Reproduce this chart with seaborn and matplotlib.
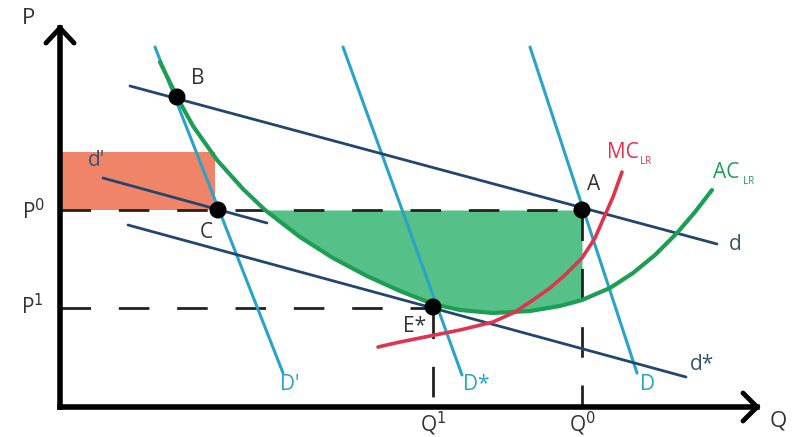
import numpy as np
import pandas as pd
import matplotlib
matplotlib.use("Agg")
import matplotlib.pyplot as plt
import seaborn as sns

sns.set_theme(style="white")
plt.rcParams["font.family"] = ["Open Sans", "DejaVu Sans"]

# Canvas coordinates (x to the right, y downward)
AXIS_X0, AXIS_Y0 = 60, 407
P0, P1 = 210, 308
Q1, Q0 = 433, 582

# Long-run average cost curve
ac_x = [160, 177, 193, 217, 243, 265, 300, 333, 367, 400, 433, 460, 493,
        530, 560, 582, 610, 633, 655, 677, 695, 712]
ac_y = [62, 97, 126, 160, 189, 210, 237, 258, 276, 291, 304, 310, 313,
        311, 306, 300, 288, 273, 255, 233, 212, 190]

# Long-run marginal cost curve
mc_x = [378, 400, 430, 460, 493, 515, 533, 550, 565, 582, 595, 605, 613, 622]
mc_y = [347, 342, 336, 330, 322, 312, 300, 288, 275, 258, 238, 215, 197, 172]

# Market demand lines D', D*, D
big_D = {
    "D'": ([155, 283], [47, 373]),
    "D*": ([343, 462], [47, 375]),
    "D": ([530, 637], [47, 373]),
}
# Firm demand lines d, d', d*
small_d = {
    "d": ([130, 717], [86, 244]),
    "d'": ([103, 267], [178, 223]),
    "d*": ([128, 686], [225, 377]),
}

# Equilibrium points
pt_names = ["B", "C", "A", "E*"]
pt_x = [177, 218, 582, 433]
pt_y = [97, 210, 210, 307]

TEAL = "#2aa3c6"
NAVY = "#23466f"
GREEN = "#1e9e55"
RED = "#e0344e"
SALMON = "#f08468"
FILL_GREEN = "#55c088"
TXT = "#333333"

fig = plt.figure(figsize=(7.92, 4.37), dpi=100)
ax = fig.add_axes([0, 0, 1, 1])
ax.set_xlim(0, 792)
ax.set_ylim(437, 0)
ax.axis("off")

# Shaded areas
ax.fill_between([AXIS_X0, 215], [152, 152], [P0, P0], color=SALMON, lw=0, zorder=1)
acx = np.array(ac_x)
acy = np.array(ac_y)
m = (acx >= 265) & (acx <= Q0)
ax.fill_between(acx[m], acy[m], P0, color=FILL_GREEN, lw=0, zorder=1)

# Dashed reference lines
dash = dict(color="#222222", lw=2, dashes=(11, 10), zorder=2)
ax.plot([AXIS_X0, Q0], [P0, P0], **dash)
ax.plot([AXIS_X0, Q1], [P1, P1], **dash)
ax.plot([Q1, Q1], [P1, AXIS_Y0], **dash)
ax.plot([Q0, Q0], [P0, AXIS_Y0], **dash)

# Demand lines
for name, (xs, ys) in big_D.items():
    sns.lineplot(x=xs, y=ys, ax=ax, color=TEAL, lw=2.2, sort=False,
                 estimator=None, zorder=3)
for name, (xs, ys) in small_d.items():
    sns.lineplot(x=xs, y=ys, ax=ax, color=NAVY, lw=2.0, sort=False,
                 estimator=None, zorder=3)

# Cost curves
sns.lineplot(x=ac_x, y=ac_y, ax=ax, color=GREEN, lw=3.0, sort=False,
             estimator=None, zorder=4)
sns.lineplot(x=mc_x, y=mc_y, ax=ax, color=RED, lw=2.6, sort=False,
             estimator=None, zorder=4)

# Points
sns.scatterplot(x=pt_x, y=pt_y, ax=ax, color="black", s=150, zorder=6,
                edgecolor="none")

# Axes with arrow heads
ax.plot([AXIS_X0, AXIS_X0], [AXIS_Y0, 28], color="black", lw=4, zorder=5,
        solid_capstyle="projecting")
ax.plot([AXIS_X0, 757], [AXIS_Y0, AXIS_Y0], color="black", lw=4, zorder=5,
        solid_capstyle="projecting")
ax.plot([46, AXIS_X0, 74], [43, 28, 43], color="black", lw=3.5, zorder=5,
        solid_joinstyle="miter")
ax.plot([743, 757, 743], [393, AXIS_Y0, 421], color="black", lw=3.5, zorder=5,
        solid_joinstyle="miter")

fs = 15
ax.text(28, 18, "P", fontsize=16, color=TXT, ha="center", va="center")
ax.text(778, 421, "Q", fontsize=16, color=TXT, ha="center", va="center")
ax.text(34, 212, "P$^0$", fontsize=fs, color=TXT, ha="center", va="center")
ax.text(32, 307, "P$^1$", fontsize=fs, color=TXT, ha="center", va="center")
ax.text(Q1, 424, "Q$^1$", fontsize=fs, color=TXT, ha="center", va="center")
ax.text(Q0, 424, "Q$^0$", fontsize=fs, color=TXT, ha="center", va="center")

ax.text(198, 78, "B", fontsize=fs, color=TXT, ha="center", va="center")
ax.text(206, 233, "C", fontsize=fs, color=TXT, ha="center", va="center")
ax.text(594, 184, "A", fontsize=fs, color=TXT, ha="center", va="center")
ax.text(415, 326, "E*", fontsize=fs, color=TXT, ha="center", va="center")

ax.text(290, 384, "D'", fontsize=fs, color=TEAL, ha="center", va="center")
ax.text(476, 384, "D*", fontsize=fs, color=TEAL, ha="center", va="center")
ax.text(648, 384, "D", fontsize=fs, color=TEAL, ha="center", va="center")

ax.text(735, 245, "d", fontsize=fs, color="#3a5470", ha="center", va="center")
ax.text(97, 160, "d'", fontsize=fs, color="#3a5470", ha="center", va="center")
ax.text(702, 365, "d*", fontsize=fs, color="#3a5470", ha="center", va="center")

ax.text(607, 152, "MC", fontsize=fs, color=RED, ha="left", va="center")
ax.text(640, 161, "LR", fontsize=7, color=RED, ha="left", va="center")
ax.text(713, 172, "AC", fontsize=fs, color=GREEN, ha="left", va="center")
ax.text(743, 181, "LR", fontsize=7, color=GREEN, ha="left", va="center")

fig.savefig("out.png", dpi=100)
